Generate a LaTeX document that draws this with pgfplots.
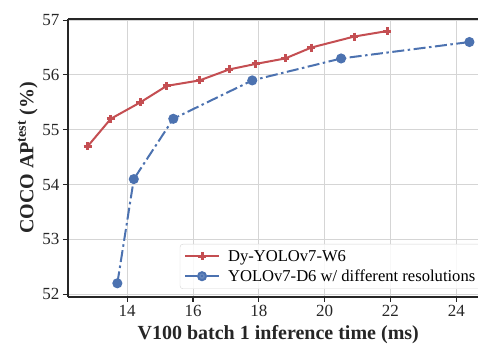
\documentclass[border=0pt]{standalone}
\usepackage{fontspec}
\setmainfont{Liberation Serif}
\usepackage{pgfplots}
\pgfplotsset{compat=1.18}
\definecolor{sred}{HTML}{C44E52}
\definecolor{sblue}{HTML}{4C72B0}
\definecolor{spine}{HTML}{262626}
\definecolor{gridc}{HTML}{D5D5D5}
\begin{document}
\begin{tikzpicture}
\begin{axis}[
  scale only axis,
  width=420.5pt, height=278pt,
  xmin=12.2, xmax=24.98,
  ymin=51.95, ymax=57.02,
  axis lines*=left,
  axis line style={spine, line width=1.25pt},
  xtick={14,16,18,20,22,24},
  ytick={52,53,54,55,56,57},
  tick align=outside,
  major tick length=5pt,
  tick style={spine, line width=1.1pt},
  grid=major,
  major grid style={gridc, line width=1pt},
  /pgf/number format/assume math mode=true,
  ticklabel style={font=\fontsize{17}{19}\selectfont, text=spine},
  xlabel={\textbf{V100 batch 1 inference time (ms)}},
  ylabel={\textbf{COCO AP\textsuperscript{test} (\%)}},
  label style={font=\fontsize{20}{22}\selectfont, text=spine},
  xlabel style={yshift=-2pt},
  ylabel style={yshift=-2pt},
  legend style={at={(rel axis cs:1,0)}, anchor=south east, xshift=-7pt, yshift=8pt,
    font=\fontsize{16.6}{19}\selectfont, draw=gridc, rounded corners=3pt,
    fill=white, fill opacity=0.85, text opacity=1, inner xsep=4pt, inner ysep=4pt,
    row sep=3pt, column sep=6pt},
  legend cell align=left,
  legend image code/.code={\draw[mark repeat=2,mark phase=2] plot coordinates {(0pt,0pt) (17pt,0pt) (34pt,0pt)};},
  clip=false,
]
\addplot[sred, line width=2pt, mark=+, mark size=4pt, mark options={solid, line width=3pt}]
  coordinates {(12.8,54.7) (13.5,55.2) (14.4,55.5) (15.2,55.8) (16.2,55.9) (17.1,56.1) (17.9,56.2) (18.8,56.3) (19.6,56.5) (20.9,56.7) (21.9,56.8)};
\addlegendentry{Dy-YOLOv7-W6}
\addplot[sblue, line width=2pt, dash pattern=on 12pt off 3.5pt on 2.5pt off 3.5pt, mark=*, mark size=4pt, mark options={solid, fill=sblue, draw=sblue}]
  coordinates {(13.7,52.2) (14.2,54.1) (15.4,55.2) (17.8,55.9) (20.5,56.3) (24.4,56.6)};
\addlegendentry{YOLOv7-D6 w/ different resolutions}
\draw[spine, line width=1.25pt] (rel axis cs:0,1) -- (rel axis cs:1,1);
\coordinate (sw) at (rel axis cs:0,0);
\coordinate (ne) at (rel axis cs:1,1);
\end{axis}
\pgfresetboundingbox
\path ([shift={(-68pt,-50pt)}]sw) rectangle ([shift={(-10.5pt,19pt)}]ne);
\end{tikzpicture}
\end{document}
